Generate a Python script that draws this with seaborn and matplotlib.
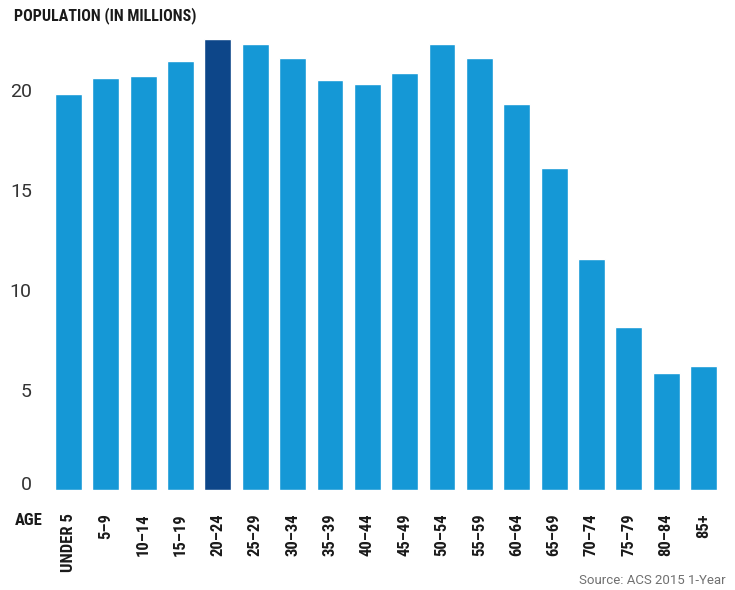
import matplotlib
matplotlib.use("Agg")
import matplotlib.pyplot as plt
from matplotlib import font_manager
import seaborn as sns
import pandas as pd

# Population by age group, millions
age_groups = ["UNDER 5", "5–9", "10–14", "15–19", "20–24", "25–29", "30–34",
              "35–39", "40–44", "45–49", "50–54", "55–59", "60–64", "65–69",
              "70–74", "75–79", "80–84", "85+"]
population = [19.8, 20.6, 20.7, 21.45, 22.55, 22.3, 21.6, 20.5, 20.3, 20.85,
              22.3, 21.6, 19.3, 16.1, 11.55, 8.15, 5.85, 6.2]
highlight_group = "20–24"
y_ticks = [0, 5, 10, 15, 20]

light_blue = "#1598d6"
dark_blue = "#0d4689"

sns.set_theme(style="white")

installed = {f.name for f in font_manager.fontManager.ttflist}
narrow = next((n for n in ["Roboto Condensed", "Liberation Sans Narrow",
                           "DejaVu Sans Condensed", "Open Sans Condensed"]
               if n in installed), "DejaVu Sans")
regular = "Roboto" if "Roboto" in installed else "DejaVu Sans"
plt.rcParams["font.family"] = [regular, "DejaVu Sans"]

df = pd.DataFrame({"age": age_groups, "pop": population})
palette = {g: (dark_blue if g == highlight_group else light_blue) for g in age_groups}

W, H = 735, 590
fig = plt.figure(figsize=(W / 100, H / 100), dpi=100)
ax_left, ax_right = 49.8, 722.2
ax_bottom, ax_top = 490, 30
ax = fig.add_axes([ax_left / W, 1 - ax_bottom / H,
                   (ax_right - ax_left) / W, (ax_bottom - ax_top) / H])

sns.barplot(data=df, x="age", y="pop", hue="age", palette=palette,
            width=0.72, saturation=1, legend=False, ax=ax)

ax.set_xlim(-0.5, len(age_groups) - 0.5)
ax.set_ylim(0, 23)
ax.set_yticks(y_ticks)
ax.set_yticklabels([str(t) for t in y_ticks])
ax.set_xlabel("")
ax.set_ylabel("")
sns.despine(ax=ax, left=True, bottom=True)
ax.grid(False)

ax.tick_params(axis="y", length=0, pad=13, labelsize=14, labelcolor="#333333")
ax.tick_params(axis="x", length=0, pad=17)
for lbl in ax.get_yticklabels():
    lbl.set_fontfamily(regular)
    if lbl.get_text() == "0":
        lbl.set_verticalalignment("baseline")
for lbl in ax.get_xticklabels():
    lbl.set_rotation(90)
    lbl.set_fontfamily(narrow)
    lbl.set_fontweight("bold")
    lbl.set_fontsize(12)
    lbl.set_color("#1a1a1a")
    lbl.set_verticalalignment("top")
    lbl.set_horizontalalignment("center")

fig.text(14 / W, 1 - 7 / H, "POPULATION (IN MILLIONS)", family=narrow,
         weight="bold", fontsize=11.5, color="#1a1a1a", ha="left", va="top")
fig.text(15 / W, 1 - 513 / H, "AGE", family=narrow, weight="bold",
         fontsize=12, color="#1a1a1a", ha="left", va="top")
fig.text(726 / W, 1 - 587 / H, "Source: ACS 2015 1-Year", family=regular,
         fontsize=9.5, color="#707070", ha="right", va="bottom")

fig.savefig("out.png", dpi=100)
